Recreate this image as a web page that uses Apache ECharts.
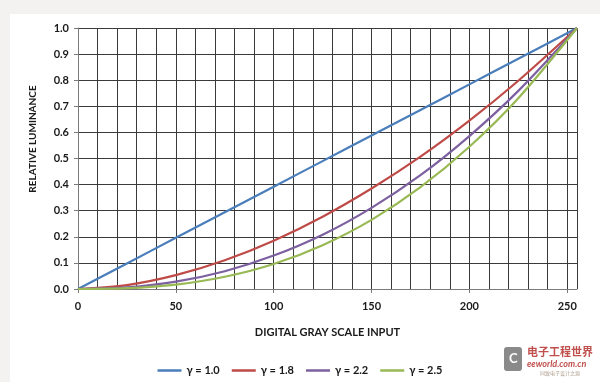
<!DOCTYPE html>
<html>
<head>
<meta charset="utf-8">
<script src="https://cdn.jsdelivr.net/npm/echarts@6/dist/echarts.min.js"></script>
<style>html,body{margin:0;padding:0;background:#f4f1f1;}#c{width:600px;height:382px;}</style>
</head>
<body>
<div id="c"></div>
<script>
// Digital input levels (x) and read-off relative luminance per gamma curve
const inputs = [0, 25, 50, 75, 100, 125, 150, 175, 200, 225, 255];
const gamma10 = [0, 0.098, 0.196, 0.294, 0.392, 0.490, 0.588, 0.686, 0.784, 0.882, 1.0];
const gamma18 = [0, 0.015, 0.053, 0.110, 0.185, 0.277, 0.385, 0.507, 0.645, 0.798, 1.0];
const gamma22 = [0, 0.006, 0.028, 0.068, 0.128, 0.208, 0.311, 0.436, 0.586, 0.759, 1.0];
const gamma25 = [0, 0.003, 0.017, 0.047, 0.096, 0.168, 0.265, 0.390, 0.545, 0.731, 1.0];
const seriesNames = ['γ = 1.0', 'γ = 1.8', 'γ = 2.2', 'γ = 2.5'];
const seriesColors = ['#4a7ebb', '#be4b48', '#7d60a0', '#98b954'];
const yTicks = ['0.0','0.1','0.2','0.3','0.4','0.5','0.6','0.7','0.8','0.9','1.0'];
const xTickLabels = [0, 50, 100, 150, 200, 250];

const allData = [gamma10, gamma18, gamma22, gamma25];
const chart = echarts.init(document.getElementById('c'));
const font = 'Lato, "Liberation Sans", sans-serif';
chart.setOption({
  animation: false,
  backgroundColor: '#f4f1f1',
  textStyle: { fontFamily: font },
  graphic: [
    { type: 'rect', z: -10, shape: { x: 10, y: 14, width: 590, height: 368 }, style: { fill: '#ffffff' } },
    { type: 'text', x: 33, y: 139, rotation: Math.PI / 2, style: { text: 'RELATIVE LUMINANCE', fill: '#1a1a1a', font: 'bold 10px ' + font, align: 'center', verticalAlign: 'middle' } },
    { type: 'rect', shape: { x: 504, y: 347, width: 18, height: 24, r: 3 }, style: { fill: '#8a8a8a' }, z: 5 },
    { type: 'text', x: 509, y: 352, style: { text: 'C', fill: '#ffffff', font: 'bold 13px ' + font }, z: 6 },
    { type: 'text', x: 527, y: 346, style: { text: '电子工程世界', fill: '#c0504d', font: 'bold 11px "Noto Sans CJK SC"' }, z: 5 },
    { type: 'text', x: 527, y: 360, style: { text: 'eeworld.com.cn', fill: '#c0504d', font: 'italic bold 9px ' + font }, z: 5 },
    { type: 'text', x: 540, y: 371, style: { text: '同致电子设计之源', fill: '#b0a090', font: '5px "Noto Sans CJK SC"' }, z: 5 }
  ],
  grid: { left: 78, right: 23, top: 28, bottom: 93 },
  legend: {
    data: seriesNames.map(n => ({ name: n, icon: 'rect' })), left: 'center', top: 360, itemWidth: 24, itemHeight: 2.5, itemGap: 12,
    textStyle: { fontFamily: font, fontWeight: 'bold', fontSize: 11, color: '#1a1a1a' }
  },
  xAxis: [
    { type: 'value', min: 0, max: 255, interval: 10,
      axisLine: { show: false }, axisTick: { show: false }, axisLabel: { show: false },
      splitLine: { show: true, lineStyle: { color: '#3a3a3a', width: 1 } } },
    { type: 'value', min: 0, max: 255, interval: 50, position: 'bottom',
      name: 'DIGITAL GRAY SCALE INPUT', nameLocation: 'middle', nameGap: 38,
      nameTextStyle: { fontFamily: font, fontWeight: 'bold', fontSize: 11, color: '#1a1a1a' },
      axisLine: { show: true, lineStyle: { color: '#7a7a7a', width: 1 } },
      axisTick: { show: true, length: 4, lineStyle: { color: '#7a7a7a' } },
      splitLine: { show: false },
      axisLabel: { showMaxLabel: false, margin: 12, fontFamily: font, fontWeight: 'bold', fontSize: 11, color: '#1a1a1a',
        formatter: v => (xTickLabels.indexOf(v) >= 0 ? String(v) : '') } }
  ],
  yAxis: {
    type: 'value', min: 0, max: 1, interval: 0.1,
    axisLine: { show: true, lineStyle: { color: '#7a7a7a' } },
    axisTick: { show: true, length: 4, inside: false, lineStyle: { color: '#7a7a7a' } },
    splitLine: { show: true, lineStyle: { color: '#3a3a3a', width: 1 } },
    axisLabel: { margin: 9, fontFamily: font, fontWeight: 'bold', fontSize: 11, color: '#1a1a1a',
      formatter: v => yTicks[Math.round(v * 10)] }
  },
  series: allData.map((arr, i) => ({
    name: seriesNames[i], type: 'line', xAxisIndex: 1, smooth: 0.3, symbol: 'none',
    lineStyle: { width: 2.2, color: seriesColors[i] }, itemStyle: { color: seriesColors[i] },
    data: inputs.map((x, j) => [x, arr[j]])
  }))
});
</script>
</body>
</html>
